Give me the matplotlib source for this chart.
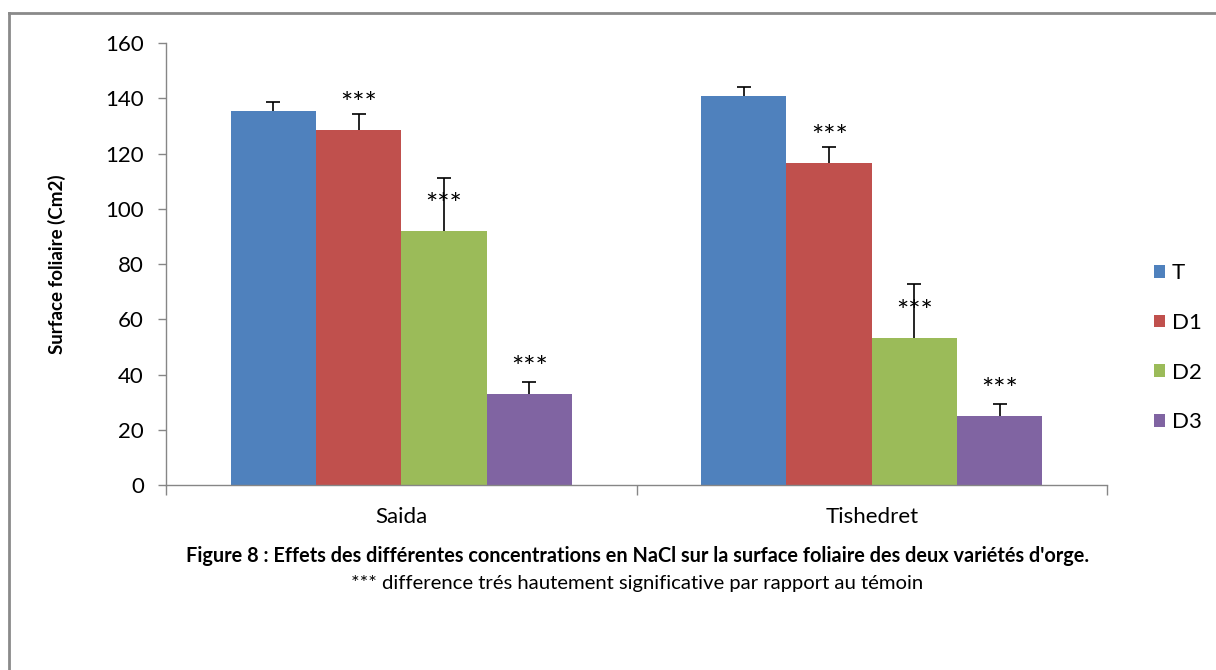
import numpy as np
import matplotlib.pyplot as plt
from matplotlib.lines import Line2D

plt.rcParams['font.family'] = ['Lato', 'DejaVu Sans']

# surface foliaire (cm2) par variété et par traitement
varietes = ["Saida", "Tishedret"]
traitements = ["T", "D1", "D2", "D3"]
surf_T = [135.5, 140.8]
surf_D1 = [128.5, 116.6]
surf_D2 = [91.9, 53.2]
surf_D3 = [32.9, 25.0]
err_T = [3.0, 3.2]
err_D1 = [5.7, 5.6]
err_D2 = [19.1, 19.4]
err_D3 = [4.4, 4.2]
signif = [False, True, True, True]  # *** par rapport au témoin

series = [surf_T, surf_D1, surf_D2, surf_D3]
errs = [err_T, err_D1, err_D2, err_D3]
couleurs = ["#4F81BD", "#C0504D", "#9BBB59", "#8064A2"]

fig = plt.figure(figsize=(12.16, 6.70), dpi=100)
ax = fig.add_axes([0.1365, 0.2761, 0.7739, 0.6597])

x = np.arange(len(varietes))
w = 0.1813
for i, (vals, e, c, lab) in enumerate(zip(series, errs, couleurs, traitements)):
    pos = x + (i - 1.5) * w
    ax.bar(pos, vals, width=w, color=c, label=lab, zorder=2)
    _, caps, _ = ax.errorbar(pos, vals, yerr=[np.zeros(len(e)), e], fmt="none",
                             ecolor="black", elinewidth=1.2, capsize=4.7,
                             capthick=1.2, zorder=3)
    # barre d'erreur positive seulement : on enlève le cap du bas
    caps[0].set_visible(False)
    if signif[i]:
        for xp, v in zip(pos, vals):
            ax.annotate("***", (xp, v), xytext=(0, 12), textcoords="offset points",
                        ha="center", va="baseline", fontsize=21, color="black", zorder=4)

ax.set_xlim(-0.5, 1.5)
ax.set_ylim(0, 160)
ax.set_yticks(np.arange(0, 161, 20))
ax.tick_params(axis="y", labelsize=16, length=6, width=1, color="#868686", pad=10)

# ticks aux limites des catégories, étiquettes au centre
ax.set_xticks([-0.5, 0.5, 1.5])
ax.set_xticklabels([])
ax.set_xticks(x, minor=True)
ax.set_xticklabels(varietes, minor=True, fontsize=16)
ax.tick_params(axis="x", which="major", length=7, width=1, color="#868686")
ax.tick_params(axis="x", which="minor", length=0, pad=16)

for s in ["top", "right"]:
    ax.spines[s].set_visible(False)
for s in ["left", "bottom"]:
    ax.spines[s].set_color("#868686")
    ax.spines[s].set_linewidth(1)

ax.set_ylabel("Surface foliaire (Cm2)", fontsize=13.5, fontweight="bold")
ax.yaxis.set_label_coords(-0.1063, 0.5)

ax.legend(loc="center left", bbox_to_anchor=(0.9400, 0.4810), bbox_transform=fig.transFigure,
          frameon=False, fontsize=16, handlelength=0.5, handleheight=0.5,
          handletextpad=0.3, labelspacing=1.33, borderpad=0)

fig.text(0.5243, 1 - 556 / 670, "Figure 8 : Effets des différentes concentrations en NaCl sur la surface foliaire des deux variétés d'orge.",
         ha="center", va="center", fontsize=14.3, fontweight="bold")
fig.text(0.5243, 1 - 583 / 670, "*** difference trés hautement significative par rapport au témoin",
         ha="center", va="center", fontsize=14.6)

# cadre gris (bords gauche et haut)
x0, y0 = 9 / 1216, 1 - 13 / 670
fig.add_artist(Line2D([x0, x0], [0, y0], transform=fig.transFigure, color="#8a8a8a", lw=2))
fig.add_artist(Line2D([x0, 1], [y0, y0], transform=fig.transFigure, color="#8a8a8a", lw=2))

fig.savefig("out.png", dpi=100)
